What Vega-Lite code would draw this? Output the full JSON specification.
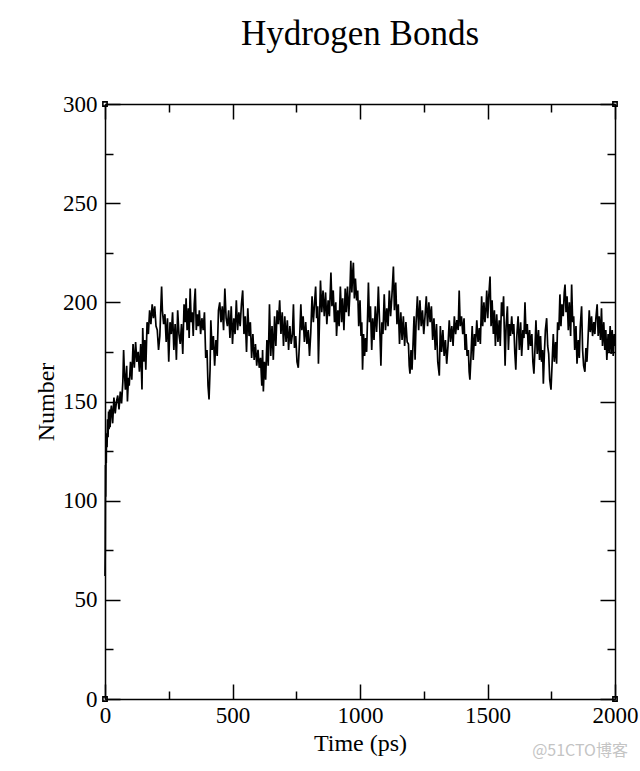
{
  "$schema": "https://vega.github.io/schema/vega-lite/v6.json",
  "autosize": "none",
  "width": 510,
  "height": 595,
  "padding": {"left": 105, "top": 104, "right": 25, "bottom": 72},
  "background": "white",
  "view": {"stroke": null},
  "title": {"text": "Hydrogen Bonds", "font": "Liberation Serif", "fontSize": 35, "fontWeight": "normal", "color": "black", "anchor": "middle", "offset": 41},
  "config": {
    "axis": {"labelFont": "Liberation Serif", "titleFont": "Liberation Serif", "labelFontSize": 23, "titleFontSize": 24, "titleFontWeight": "normal", "labelColor": "black", "titleColor": "black", "domainColor": "black", "domainWidth": 1.5, "tickColor": "black", "tickWidth": 1.5, "ticks": true, "grid": false, "labelOverlap": false, "labelBound": false, "labelFlush": false, "format": "d"}
  },
  "datasets": {
    "hb": [
      {"t":0,"n":62},{"t":1,"n":75},{"t":2,"n":118},{"t":3,"n":102},{"t":4,"n":124},{"t":5,"n":119},{"t":6,"n":134},{"t":8,"n":127},{"t":10,"n":141},{"t":12,"n":132},{"t":14,"n":145},{"t":16,"n":136},{"t":18,"n":146},{"t":20,"n":137},{"t":22,"n":144},
      {"t":25,"n":148},{"t":30,"n":139},{"t":35,"n":152},{"t":40,"n":144},{"t":45,"n":150},{"t":50,"n":153},{"t":55,"n":146},{"t":60,"n":155},{"t":65,"n":149},{"t":70,"n":160},{"t":73,"n":176},{"t":76,"n":165},{"t":80,"n":156},{"t":85,"n":168},{"t":88,"n":150},{"t":92,"n":162},{"t":95,"n":158},{"t":100,"n":170},{"t":105,"n":161},{"t":110,"n":179},{"t":115,"n":167},{"t":120,"n":180},{"t":125,"n":170},{"t":130,"n":175},{"t":135,"n":165},{"t":140,"n":179},{"t":145,"n":156},{"t":148,"n":187},{"t":152,"n":170},{"t":156,"n":181},{"t":160,"n":166},{"t":165,"n":190},{"t":170,"n":184},{"t":175,"n":196},{"t":180,"n":189},{"t":185,"n":199},{"t":190,"n":192},{"t":195,"n":198},{"t":200,"n":188},{"t":205,"n":186},{"t":210,"n":176},{"t":215,"n":183},{"t":218,"n":194},{"t":222,"n":208},{"t":225,"n":196},{"t":230,"n":189},{"t":235,"n":194},{"t":240,"n":180},{"t":245,"n":192},{"t":250,"n":170},{"t":255,"n":190},{"t":260,"n":184},{"t":265,"n":195},{"t":270,"n":176},{"t":275,"n":189},{"t":280,"n":171},{"t":285,"n":196},{"t":290,"n":184},{"t":295,"n":179},{"t":300,"n":189},{"t":305,"n":174},{"t":310,"n":199},{"t":315,"n":190},{"t":318,"n":202},{"t":322,"n":186},{"t":327,"n":197},{"t":330,"n":182},{"t":334,"n":207},{"t":338,"n":190},{"t":342,"n":195},{"t":346,"n":183},{"t":350,"n":199},{"t":354,"n":207},{"t":358,"n":186},{"t":362,"n":194},{"t":366,"n":188},{"t":370,"n":196},{"t":375,"n":184},{"t":380,"n":192},{"t":385,"n":186},{"t":390,"n":195},{"t":395,"n":172},{"t":400,"n":176},{"t":404,"n":158},{"t":408,"n":151},{"t":412,"n":166},{"t":415,"n":191},{"t":420,"n":176},{"t":425,"n":183},{"t":430,"n":168},{"t":435,"n":181},{"t":440,"n":173},{"t":445,"n":196},{"t":450,"n":200},{"t":455,"n":190},{"t":460,"n":198},{"t":465,"n":186},{"t":470,"n":207},{"t":475,"n":192},{"t":480,"n":188},{"t":485,"n":196},{"t":490,"n":182},{"t":495,"n":198},{"t":500,"n":179},{"t":505,"n":192},{"t":510,"n":184},{"t":515,"n":201},{"t":520,"n":186},{"t":525,"n":195},{"t":530,"n":188},{"t":535,"n":199},{"t":540,"n":206},{"t":545,"n":184},{"t":550,"n":193},{"t":555,"n":175},{"t":560,"n":197},{"t":565,"n":183},{"t":570,"n":190},{"t":575,"n":172},{"t":580,"n":184},{"t":585,"n":171},{"t":590,"n":179},{"t":595,"n":168},{"t":600,"n":176},{"t":605,"n":167},{"t":610,"n":172},{"t":615,"n":158},{"t":618,"n":176},{"t":621,"n":155},{"t":625,"n":170},{"t":630,"n":161},{"t":635,"n":181},{"t":640,"n":168},{"t":645,"n":199},{"t":650,"n":173},{"t":655,"n":188},{"t":660,"n":171},{"t":665,"n":193},{"t":670,"n":178},{"t":675,"n":196},{"t":680,"n":189},{"t":685,"n":201},{"t":690,"n":184},{"t":695,"n":195},{"t":700,"n":178},{"t":705,"n":193},{"t":710,"n":180},{"t":715,"n":191},{"t":720,"n":176},{"t":725,"n":188},{"t":730,"n":179},{"t":735,"n":184},{"t":739,"n":199},{"t":743,"n":177},{"t":748,"n":183},{"t":753,"n":170},{"t":758,"n":167},{"t":763,"n":181},{"t":768,"n":199},{"t":772,"n":186},{"t":777,"n":193},{"t":782,"n":180},{"t":787,"n":190},{"t":792,"n":179},{"t":797,"n":186},{"t":802,"n":173},{"t":807,"n":185},{"t":812,"n":203},{"t":817,"n":190},{"t":822,"n":200},{"t":826,"n":208},{"t":830,"n":192},{"t":834,"n":198},{"t":837,"n":169},{"t":841,"n":190},{"t":845,"n":211},{"t":850,"n":195},{"t":855,"n":206},{"t":860,"n":193},{"t":865,"n":205},{"t":870,"n":189},{"t":875,"n":201},{"t":880,"n":193},{"t":886,"n":215},{"t":890,"n":198},{"t":895,"n":206},{"t":900,"n":190},{"t":905,"n":200},{"t":908,"n":183},{"t":913,"n":196},{"t":918,"n":188},{"t":923,"n":208},{"t":928,"n":190},{"t":932,"n":202},{"t":937,"n":186},{"t":942,"n":207},{"t":946,"n":195},{"t":951,"n":208},{"t":956,"n":193},{"t":960,"n":204},{"t":964,"n":221},{"t":968,"n":205},{"t":971,"n":214},{"t":974,"n":220},{"t":978,"n":202},{"t":982,"n":212},{"t":987,"n":201},{"t":991,"n":206},{"t":995,"n":188},{"t":1000,"n":201},{"t":1004,"n":183},{"t":1007,"n":190},{"t":1010,"n":166},{"t":1014,"n":184},{"t":1018,"n":173},{"t":1022,"n":182},{"t":1026,"n":175},{"t":1030,"n":194},{"t":1033,"n":210},{"t":1037,"n":190},{"t":1041,"n":198},{"t":1046,"n":176},{"t":1050,"n":192},{"t":1055,"n":181},{"t":1060,"n":198},{"t":1065,"n":185},{"t":1069,"n":196},{"t":1072,"n":208},{"t":1077,"n":189},{"t":1082,"n":168},{"t":1086,"n":190},{"t":1090,"n":184},{"t":1095,"n":204},{"t":1100,"n":186},{"t":1105,"n":197},{"t":1110,"n":188},{"t":1115,"n":206},{"t":1120,"n":193},{"t":1125,"n":203},{"t":1131,"n":218},{"t":1135,"n":196},{"t":1140,"n":210},{"t":1145,"n":189},{"t":1150,"n":199},{"t":1155,"n":179},{"t":1160,"n":195},{"t":1165,"n":181},{"t":1170,"n":193},{"t":1175,"n":178},{"t":1180,"n":190},{"t":1185,"n":180},{"t":1190,"n":179},{"t":1193,"n":168},{"t":1196,"n":164},{"t":1200,"n":176},{"t":1204,"n":166},{"t":1208,"n":179},{"t":1212,"n":193},{"t":1216,"n":171},{"t":1220,"n":190},{"t":1225,"n":203},{"t":1230,"n":186},{"t":1235,"n":201},{"t":1240,"n":188},{"t":1245,"n":196},{"t":1250,"n":184},{"t":1255,"n":193},{"t":1260,"n":203},{"t":1265,"n":188},{"t":1270,"n":200},{"t":1275,"n":190},{"t":1280,"n":198},{"t":1285,"n":181},{"t":1290,"n":192},{"t":1295,"n":176},{"t":1300,"n":189},{"t":1305,"n":170},{"t":1311,"n":163},{"t":1315,"n":188},{"t":1320,"n":175},{"t":1325,"n":186},{"t":1330,"n":173},{"t":1335,"n":181},{"t":1340,"n":169},{"t":1345,"n":178},{"t":1350,"n":191},{"t":1355,"n":180},{"t":1360,"n":188},{"t":1365,"n":178},{"t":1370,"n":193},{"t":1375,"n":184},{"t":1380,"n":191},{"t":1385,"n":186},{"t":1389,"n":206},{"t":1393,"n":188},{"t":1398,"n":193},{"t":1403,"n":184},{"t":1408,"n":192},{"t":1412,"n":176},{"t":1416,"n":184},{"t":1420,"n":173},{"t":1425,"n":176},{"t":1428,"n":165},{"t":1431,"n":161},{"t":1435,"n":172},{"t":1440,"n":188},{"t":1444,"n":171},{"t":1449,"n":184},{"t":1453,"n":178},{"t":1458,"n":191},{"t":1463,"n":180},{"t":1468,"n":187},{"t":1472,"n":179},{"t":1477,"n":203},{"t":1481,"n":188},{"t":1486,"n":200},{"t":1490,"n":190},{"t":1494,"n":197},{"t":1497,"n":206},{"t":1501,"n":192},{"t":1505,"n":203},{"t":1510,"n":213},{"t":1514,"n":188},{"t":1518,"n":201},{"t":1523,"n":184},{"t":1527,"n":196},{"t":1531,"n":178},{"t":1536,"n":194},{"t":1541,"n":180},{"t":1546,"n":191},{"t":1550,"n":178},{"t":1555,"n":200},{"t":1559,"n":193},{"t":1563,"n":203},{"t":1566,"n":185},{"t":1569,"n":168},{"t":1573,"n":188},{"t":1578,"n":198},{"t":1582,"n":176},{"t":1586,"n":189},{"t":1590,"n":183},{"t":1595,"n":193},{"t":1599,"n":184},{"t":1603,"n":189},{"t":1607,"n":175},{"t":1611,"n":166},{"t":1615,"n":183},{"t":1620,"n":193},{"t":1625,"n":176},{"t":1630,"n":190},{"t":1634,"n":173},{"t":1639,"n":186},{"t":1643,"n":182},{"t":1647,"n":200},{"t":1651,"n":184},{"t":1656,"n":189},{"t":1660,"n":176},{"t":1665,"n":186},{"t":1669,"n":178},{"t":1674,"n":184},{"t":1678,"n":170},{"t":1682,"n":164},{"t":1686,"n":176},{"t":1690,"n":191},{"t":1695,"n":174},{"t":1700,"n":186},{"t":1704,"n":171},{"t":1708,"n":183},{"t":1712,"n":170},{"t":1716,"n":176},{"t":1719,"n":159},{"t":1723,"n":174},{"t":1727,"n":186},{"t":1732,"n":192},{"t":1736,"n":178},{"t":1740,"n":174},{"t":1744,"n":161},{"t":1749,"n":156},{"t":1753,"n":168},{"t":1758,"n":184},{"t":1762,"n":170},{"t":1767,"n":180},{"t":1771,"n":169},{"t":1775,"n":190},{"t":1780,"n":186},{"t":1784,"n":204},{"t":1788,"n":188},{"t":1792,"n":199},{"t":1797,"n":193},{"t":1801,"n":205},{"t":1804,"n":209},{"t":1808,"n":195},{"t":1812,"n":203},{"t":1817,"n":186},{"t":1821,"n":200},{"t":1826,"n":183},{"t":1830,"n":209},{"t":1834,"n":190},{"t":1838,"n":193},{"t":1842,"n":176},{"t":1847,"n":188},{"t":1851,"n":169},{"t":1856,"n":181},{"t":1860,"n":172},{"t":1864,"n":188},{"t":1869,"n":198},{"t":1873,"n":176},{"t":1877,"n":168},{"t":1882,"n":165},{"t":1886,"n":177},{"t":1890,"n":170},{"t":1894,"n":181},{"t":1899,"n":196},{"t":1903,"n":185},{"t":1908,"n":193},{"t":1912,"n":183},{"t":1917,"n":190},{"t":1921,"n":184},{"t":1925,"n":192},{"t":1930,"n":199},{"t":1934,"n":183},{"t":1938,"n":193},{"t":1943,"n":181},{"t":1947,"n":197},{"t":1951,"n":178},{"t":1956,"n":190},{"t":1960,"n":176},{"t":1964,"n":186},{"t":1968,"n":171},{"t":1973,"n":184},{"t":1977,"n":175},{"t":1981,"n":188},{"t":1985,"n":174},{"t":1989,"n":186},{"t":1993,"n":173},{"t":1997,"n":184},{"t":2000,"n":178}
    ],
    "corners": [{"t":0,"n":0},{"t":0,"n":300},{"t":2000,"n":0},{"t":2000,"n":300}],
    "mark": [{"t":1863,"n":-26,"label":"@51CTO博客"}]
  },
  "layer": [
    {
      "data": {"name": "hb"},
      "mark": {"type": "line", "color": "black", "strokeWidth": 1.7, "interpolate": "linear"},
      "encoding": {
        "x": {"field": "t", "type": "quantitative", "scale": {"domain": [0, 2000], "nice": false, "zero": false},
              "axis": {"orient": "bottom", "title": "Time (ps)", "values": [0,250,500,750,1000,1250,1500,1750,2000], "tickSize": {"condition": {"test": "datum.value % 500 === 0", "value": -15}, "value": -8}, "labelPadding": 20, "titlePadding": -3,
                       "labelExpr": "datum.value % 500 === 0 ? datum.label : ''"}},
        "y": {"field": "n", "type": "quantitative", "scale": {"domain": [0, 300], "nice": false, "zero": false},
              "axis": {"orient": "left", "title": "Number", "values": [0,25,50,75,100,125,150,175,200,225,250,275,300], "tickSize": {"condition": {"test": "datum.value % 50 === 0", "value": -15}, "value": -8}, "labelPadding": 23, "titlePadding": 4,
                       "labelExpr": "datum.value % 50 === 0 ? datum.label : ''"}}
      }
    },
    {
      "data": {"name": "corners"},
      "mark": {"type": "point", "shape": "square", "filled": false, "stroke": "black", "strokeWidth": 1.6, "size": 18, "opacity": 1},
      "encoding": {
        "x": {"field": "t", "type": "quantitative",
              "axis": {"orient": "top", "title": null, "labels": false, "values": [0,250,500,750,1000,1250,1500,1750,2000], "tickSize": {"condition": {"test": "datum.value % 500 === 0", "value": -15}, "value": -8}}},
        "y": {"field": "n", "type": "quantitative",
              "axis": {"orient": "right", "title": null, "labels": false, "values": [0,25,50,75,100,125,150,175,200,225,250,275,300], "tickSize": {"condition": {"test": "datum.value % 50 === 0", "value": -15}, "value": -8}}}
      }
    },
    {
      "data": {"name": "mark"},
      "mark": {"type": "text", "font": "Noto Sans CJK SC", "fontSize": 16, "color": "#c4c4c4", "align": "center", "baseline": "middle"},
      "encoding": {
        "x": {"field": "t", "type": "quantitative", "axis": null},
        "y": {"field": "n", "type": "quantitative", "axis": null},
        "text": {"field": "label"}
      }
    }
  ],
  "resolve": {"axis": {"x": "independent", "y": "independent"}}
}
